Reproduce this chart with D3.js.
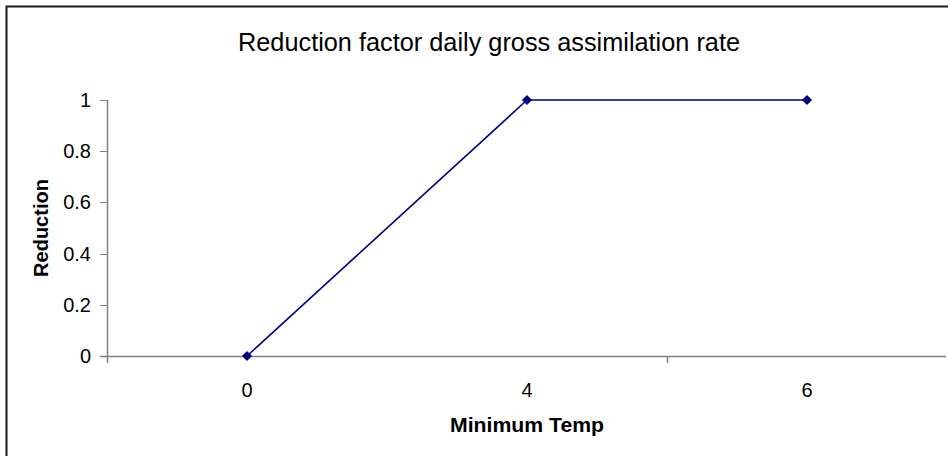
<!DOCTYPE html>
<html>
<head>
<meta charset="utf-8">
<script src="https://cdn.jsdelivr.net/npm/d3@7"></script>
<style>
  html, body { margin: 0; padding: 0; background: #fff; }
  svg { display: block; font-family: Arial, "Liberation Sans", sans-serif; }
</style>
</head>
<body>
<svg id="chart" width="948" height="456"></svg>
<script>
const title = "Reduction factor daily gross assimilation rate";
const xTitle = "Minimum Temp";
const yTitle = "Reduction";
const categories = ["0", "4", "6"];
const values = [0, 1, 1];
const yTicks = [0, 0.2, 0.4, 0.6, 0.8, 1];

const svg = d3.select("#chart");
const W = 948, H = 456;
const plot = { left: 107, right: 947, top: 100, bottom: 356 };
const axisColor = "#7f7f7f";
const lineColor = "#000080";

// Outer chart border
svg.append("rect")
  .attr("x", 6.5).attr("y", 6.5)
  .attr("width", 1000).attr("height", 1000)
  .attr("fill", "none").attr("stroke", "#1a1a1a").attr("stroke-width", 2);

const x = d3.scaleBand().domain(categories).range([plot.left, plot.right]);
const y = d3.scaleLinear().domain([0, 1]).range([plot.bottom, plot.top]);

// Title
svg.append("text")
  .attr("x", 489).attr("y", 51)
  .attr("text-anchor", "middle")
  .attr("font-size", 25)
  .attr("fill", "#000")
  .attr("textLength", 502).attr("lengthAdjust", "spacingAndGlyphs")
  .text(title);

// Y axis
const yAxis = svg.append("g")
  .attr("transform", `translate(${plot.left},0)`)
  .call(d3.axisLeft(y).tickValues(yTicks).tickSize(7).tickPadding(9).tickFormat(d => String(d)));
yAxis.select(".domain").remove();
yAxis.selectAll(".tick line").attr("stroke", axisColor).attr("shape-rendering", "crispEdges");
yAxis.selectAll(".tick text").attr("font-size", 20).attr("fill", "#000").attr("font-family", "Arial, 'Liberation Sans', sans-serif");
svg.append("line")
  .attr("x1", plot.left + 0.5).attr("x2", plot.left + 0.5)
  .attr("y1", plot.top).attr("y2", plot.bottom + 7)
  .attr("stroke", axisColor).attr("stroke-width", 1.5);

// X axis labels
const xAxis = svg.append("g")
  .attr("transform", `translate(0,${plot.bottom})`)
  .call(d3.axisBottom(x).tickSize(0).tickPadding(27));
xAxis.select(".domain").remove();
xAxis.selectAll(".tick text").attr("font-size", 20).attr("fill", "#000").attr("font-family", "Arial, 'Liberation Sans', sans-serif");

// X axis line and tick marks
svg.append("line")
  .attr("x1", plot.left - 7).attr("x2", plot.right - 1)
  .attr("y1", plot.bottom + 0.5).attr("y2", plot.bottom + 0.5)
  .attr("stroke", axisColor).attr("stroke-width", 1.5);
svg.selectAll("line.xtick")
  .data([categories[2]])
  .join("line").attr("class", "xtick")
  .attr("x1", d => x(d) + 0.5).attr("x2", d => x(d) + 0.5)
  .attr("y1", plot.bottom).attr("y2", plot.bottom + 7)
  .attr("stroke", axisColor).attr("stroke-width", 1.5);

// Axis titles
svg.append("text")
  .attr("x", 527).attr("y", 432)
  .attr("text-anchor", "middle")
  .attr("font-size", 20).attr("font-weight", "bold")
  .attr("textLength", 154).attr("lengthAdjust", "spacingAndGlyphs")
  .text(xTitle);
svg.append("text")
  .attr("transform", "translate(48,228) rotate(-90)")
  .attr("text-anchor", "middle")
  .attr("font-size", 20).attr("font-weight", "bold")
  .text(yTitle);

// Series line
const pts = categories.map((c, i) => [x(c) + x.bandwidth() / 2, y(values[i])]);
svg.append("path")
  .attr("d", d3.line()(pts))
  .attr("fill", "none").attr("stroke", lineColor).attr("stroke-width", 1.6);

// Markers (diamonds)
svg.selectAll("path.marker")
  .data(categories.map((c, i) => ({ c, v: values[i] })))
  .join("path").attr("class", "marker")
  .attr("d", d3.symbol(d3.symbolSquare, 52)())
  .attr("transform", d => `translate(${x(d.c) + x.bandwidth() / 2},${y(d.v)}) rotate(45)`)
  .attr("fill", lineColor);
</script>
</body>
</html>
